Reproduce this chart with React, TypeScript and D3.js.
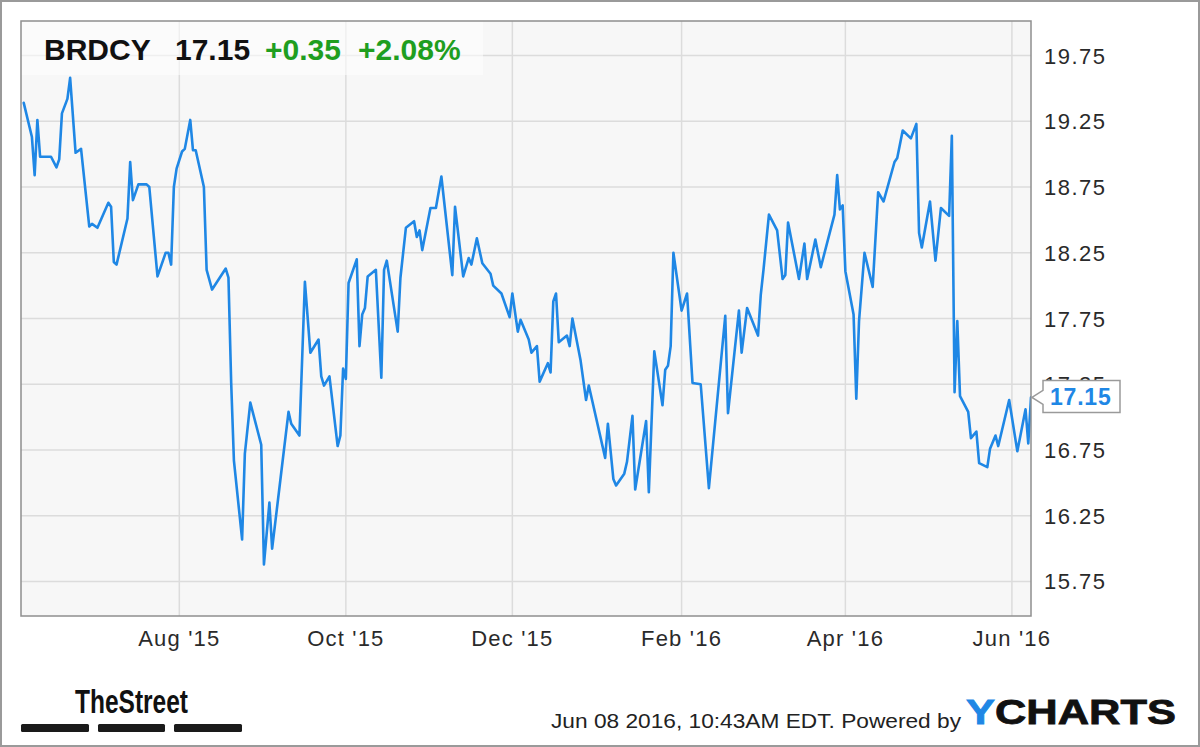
import React from "react";
import * as d3 from "d3";

const W = 1200;
const H = 747;

const ticker = "BRDCY";
const lastPrice = "17.15";
const change = "+0.35";
const changePct = "+2.08%";
const stamp = "Jun 08 2016, 10:43AM EDT.  Powered by";

const domainStart = "2015-06-04";
const domainEnd = "2016-06-08";

const xTicks = ["2015-08-01", "2015-10-01", "2015-12-01", "2016-02-01", "2016-04-01", "2016-06-01"];
const yTicks = [15.75, 16.25, 16.75, 17.25, 17.75, 18.25, 18.75, 19.25, 19.75];

const dates = [
  "2015-06-05", "2015-06-08", "2015-06-09", "2015-06-10", "2015-06-11", "2015-06-15", "2015-06-17", "2015-06-18", "2015-06-19", "2015-06-21",
  "2015-06-22", "2015-06-24", "2015-06-26", "2015-06-29", "2015-06-30", "2015-07-02", "2015-07-06", "2015-07-07", "2015-07-08", "2015-07-09",
  "2015-07-13", "2015-07-14", "2015-07-15", "2015-07-17", "2015-07-20", "2015-07-21", "2015-07-24", "2015-07-27", "2015-07-28", "2015-07-29",
  "2015-07-30", "2015-07-31", "2015-08-02", "2015-08-03", "2015-08-05", "2015-08-06", "2015-08-07", "2015-08-10", "2015-08-11", "2015-08-13",
  "2015-08-18", "2015-08-19", "2015-08-20", "2015-08-21", "2015-08-24", "2015-08-25", "2015-08-27", "2015-08-31", "2015-09-01", "2015-09-03",
  "2015-09-04", "2015-09-07", "2015-09-10", "2015-09-11", "2015-09-14", "2015-09-16", "2015-09-18", "2015-09-21", "2015-09-22", "2015-09-23",
  "2015-09-25", "2015-09-28", "2015-09-29", "2015-09-30", "2015-10-01", "2015-10-02", "2015-10-05", "2015-10-06", "2015-10-07", "2015-10-08",
  "2015-10-09", "2015-10-12", "2015-10-14", "2015-10-15", "2015-10-16", "2015-10-20", "2015-10-21", "2015-10-23", "2015-10-26", "2015-10-27",
  "2015-10-28", "2015-10-29", "2015-11-01", "2015-11-03", "2015-11-05", "2015-11-09", "2015-11-10", "2015-11-13", "2015-11-15", "2015-11-16",
  "2015-11-18", "2015-11-20", "2015-11-23", "2015-11-24", "2015-11-27", "2015-11-30", "2015-12-01", "2015-12-03", "2015-12-04", "2015-12-07",
  "2015-12-08", "2015-12-10", "2015-12-11", "2015-12-14", "2015-12-15", "2015-12-16", "2015-12-17", "2015-12-18", "2015-12-21", "2015-12-22",
  "2015-12-23", "2015-12-26", "2015-12-28", "2015-12-29", "2016-01-04", "2016-01-05", "2016-01-07", "2016-01-08", "2016-01-11", "2016-01-12",
  "2016-01-14", "2016-01-15", "2016-01-19", "2016-01-20", "2016-01-22", "2016-01-25", "2016-01-26", "2016-01-27", "2016-01-28", "2016-01-29",
  "2016-02-01", "2016-02-03", "2016-02-05", "2016-02-08", "2016-02-11", "2016-02-17", "2016-02-18", "2016-02-22", "2016-02-23", "2016-02-25",
  "2016-02-29", "2016-03-01", "2016-03-02", "2016-03-04", "2016-03-07", "2016-03-09", "2016-03-10", "2016-03-11", "2016-03-15", "2016-03-17",
  "2016-03-18", "2016-03-21", "2016-03-23", "2016-03-28", "2016-03-29", "2016-03-30", "2016-03-31", "2016-04-01", "2016-04-04", "2016-04-05",
  "2016-04-06", "2016-04-08", "2016-04-11", "2016-04-13", "2016-04-15", "2016-04-19", "2016-04-20", "2016-04-22", "2016-04-25", "2016-04-27",
  "2016-04-28", "2016-04-29", "2016-05-02", "2016-05-04", "2016-05-06", "2016-05-09", "2016-05-10", "2016-05-11", "2016-05-12", "2016-05-13",
  "2016-05-16", "2016-05-17", "2016-05-19", "2016-05-20", "2016-05-23", "2016-05-24", "2016-05-26", "2016-05-27", "2016-05-31", "2016-06-03",
  "2016-06-06", "2016-06-07", "2016-06-08",
];

const prices = [
  19.39, 19.13, 18.84, 19.26, 18.98, 18.98, 18.90, 18.96, 19.31, 19.42,
  19.58, 19.01, 19.04, 18.45, 18.47, 18.44, 18.63, 18.60, 18.18, 18.16,
  18.51, 18.94, 18.65, 18.77, 18.77, 18.75, 18.07, 18.25, 18.25, 18.16,
  18.75, 18.89, 19.02, 19.04, 19.26, 19.03, 19.03, 18.75, 18.12, 17.97,
  18.13, 18.06, 17.26, 16.67, 16.07, 16.72, 17.11, 16.79, 15.88, 16.35,
  16.00, 16.52, 17.04, 16.95, 16.86, 18.03, 17.49, 17.59, 17.31, 17.24,
  17.31, 16.78, 16.86, 17.37, 17.29, 18.02, 18.20, 17.54, 17.78, 17.83,
  18.07, 18.12, 17.30, 18.12, 18.19, 17.65, 18.06, 18.44, 18.49, 18.37,
  18.42, 18.27, 18.59, 18.59, 18.83, 18.08, 18.60, 18.07, 18.21, 18.16,
  18.36, 18.17, 18.09, 18.00, 17.94, 17.76, 17.94, 17.65, 17.74, 17.59,
  17.49, 17.54, 17.27, 17.41, 17.34, 17.88, 17.94, 17.57, 17.62, 17.54,
  17.75, 17.43, 17.13, 17.24, 16.69, 16.95, 16.53, 16.48, 16.57, 16.66,
  17.01, 16.45, 16.97, 16.43, 17.50, 17.09, 17.36, 17.39, 17.54, 18.25,
  17.81, 17.94, 17.26, 17.25, 16.46, 17.77, 17.03, 17.81, 17.49, 17.83,
  17.62, 17.93, 18.12, 18.54, 18.42, 18.05, 18.08, 18.48, 18.05, 18.32,
  18.05, 18.35, 18.14, 18.54, 18.84, 18.58, 18.61, 18.11, 17.78, 17.14,
  17.73, 18.25, 17.99, 18.71, 18.64, 18.94, 18.97, 19.18, 19.12, 19.23,
  18.40, 18.29, 18.64, 18.19, 18.59, 18.53, 19.14, 17.19, 17.73, 17.16,
  17.04, 16.84, 16.89, 16.65, 16.62, 16.76, 16.86, 16.78, 17.13, 16.74,
  17.06, 16.80, 17.15,
];

const FONT = "'Liberation Sans', Arial, Helvetica, sans-serif";
const BLUE = "#1f87e5";
const GREEN = "#1f9e1f";

export default function App() {
  const parse = d3.timeParse("%Y-%m-%d");
  const data = dates.map((d, i) => ({ date: parse(d) as Date, value: prices[i] }));

  const plot = { left: 21, right: 1031, top: 21, bottom: 616 };
  const x = d3
    .scaleTime()
    .domain([parse(domainStart) as Date, parse(domainEnd) as Date])
    .range([plot.left, plot.right]);
  const y = d3.scaleLinear().domain([15.4876, 20.0124]).range([plot.bottom, plot.top]);

  const line = d3
    .line<{ date: Date; value: number }>()
    .x((d) => x(d.date))
    .y((d) => y(d.value))
    .curve(d3.curveLinear);

  const fmtX = d3.timeFormat("%b '%y");
  const last = data[data.length - 1];
  const ly = y(last.value);
  const lx = x(last.date);

  const boxL = 1043;
  const boxR = 1120;
  const boxT = ly - 17;
  const boxB = ly + 15;
  const callout = `M${lx + 1},${ly} L${boxL},${ly - 7} L${boxL},${boxT} L${boxR},${boxT} L${boxR},${boxB} L${boxL},${boxB} L${boxL},${ly + 7} Z`;

  return (
    <svg
      width={W}
      height={H}
      viewBox={`0 0 ${W} ${H}`}
      style={{ position: "absolute", left: 0, top: 0, display: "block", background: "#fff" }}
    >
      <defs>
        <clipPath id="plotClip">
          <rect x={plot.left} y={plot.top} width={plot.right - plot.left} height={plot.bottom - plot.top} />
        </clipPath>
      </defs>
      <rect x={1} y={1} width={W - 2} height={H - 2} fill="#fff" stroke="#9a9a9a" strokeWidth={2} />

      {/* plot background */}
      <rect x={plot.left} y={plot.top} width={plot.right - plot.left} height={plot.bottom - plot.top} fill="#f7f7f7" />

      {/* gridlines */}
      {yTicks.map((t) => (
        <line key={"gy" + t} x1={plot.left} x2={plot.right} y1={y(t)} y2={y(t)} stroke="#dcdcdc" strokeWidth={1.5} />
      ))}
      {xTicks.map((t) => (
        <line
          key={"gx" + t}
          x1={x(parse(t) as Date)}
          x2={x(parse(t) as Date)}
          y1={plot.top}
          y2={plot.bottom}
          stroke="#dcdcdc"
          strokeWidth={1.5}
        />
      ))}

      {/* header box */}
      <rect x={plot.left} y={plot.top} width={462} height={54} fill="#ffffff" opacity={0.55} />

      {/* price line */}
      <path
        d={line(data) || ""}
        fill="none"
        stroke={BLUE}
        strokeWidth={2.6}
        strokeLinejoin="round"
        strokeLinecap="round"
        clipPath="url(#plotClip)"
      />

      {/* plot border */}
      <rect
        x={plot.left}
        y={plot.top}
        width={plot.right - plot.left}
        height={plot.bottom - plot.top}
        fill="none"
        stroke="#8f8f8f"
        strokeWidth={1.5}
      />

      {/* header text */}
      <g fontFamily={FONT} fontWeight="bold" fontSize={30}>
        <text x={44} y={60} fill="#111">{ticker}</text>
        <text x={175} y={60} fill="#111">{lastPrice}</text>
        <text x={265} y={60} fill={GREEN}>{change}</text>
        <text x={358} y={60} fill={GREEN}>{changePct}</text>
      </g>

      {/* y axis labels */}
      <g fontFamily={FONT} fontSize={22} fill="#2a2a2a" letterSpacing={1.5}>
        {yTicks.map((t) => (
          <text key={"ty" + t} x={1044} y={y(t) + 8}>
            {t.toFixed(2)}
          </text>
        ))}
      </g>

      {/* x axis labels */}
      <g fontFamily={FONT} fontSize={22} fill="#2a2a2a" letterSpacing={1.2} textAnchor="middle">
        {xTicks.map((t) => (
          <text key={"tx" + t} x={x(parse(t) as Date)} y={646}>
            {fmtX(parse(t) as Date)}
          </text>
        ))}
      </g>

      {/* last price callout */}
      <path d={callout} fill="#fff" stroke="#9a9a9a" strokeWidth={1.5} />
      <text
        x={1050}
        y={ly + 8}
        fontFamily={FONT}
        fontWeight="bold"
        fontSize={23}
        fill={BLUE}
        letterSpacing={0.8}
      >
        {lastPrice}
      </text>

      {/* TheStreet logo */}
      <text
        x={75}
        y={713}
        fontFamily={FONT}
        fontWeight="bold"
        fontSize={34}
        fill="#111"
        textLength={113}
        lengthAdjust="spacingAndGlyphs"
      >
        TheStreet
      </text>
      <rect x={21} y={724} width={68} height={8} rx={1.5} fill="#1a1a1a" />
      <rect x={98} y={724} width={67} height={8} rx={1.5} fill="#1a1a1a" />
      <rect x={174} y={724} width={68} height={8} rx={1.5} fill="#1a1a1a" />

      {/* footer */}
      <text
        x={551}
        y={728}
        fontFamily={FONT}
        fontSize={20}
        fill="#222"
        textLength={410}
        lengthAdjust="spacingAndGlyphs"
      >
        {stamp}
      </text>
      <text
        x={966}
        y={724}
        fontFamily={FONT}
        fontWeight="bold"
        fontSize={35}
        fill="#111"
        stroke="#111"
        strokeWidth={0.8}
        textLength={210}
        lengthAdjust="spacingAndGlyphs"
      >
        <tspan fill={BLUE} stroke={BLUE}>Y</tspan>CHARTS
      </text>
    </svg>
  );
}
